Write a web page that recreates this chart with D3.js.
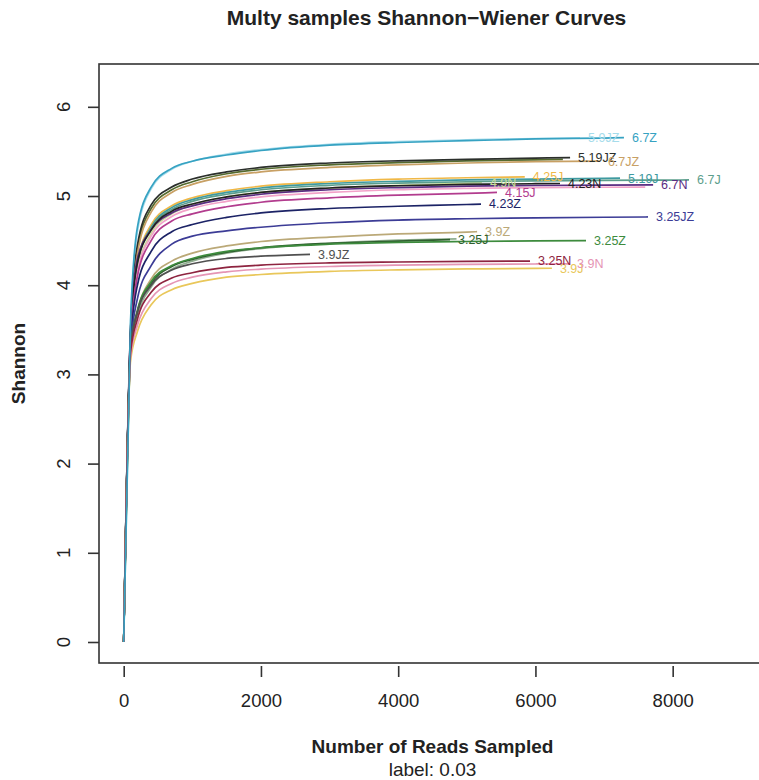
<!DOCTYPE html>
<html>
<head>
<meta charset="utf-8">
<script src="https://cdn.jsdelivr.net/npm/d3@7"></script>
<style>
  body { margin: 0; background: #fff; }
  text { font-family: "Liberation Sans", Arial, Helvetica, sans-serif; }
</style>
</head>
<body>
<div id="wrapper"></div>
<script>
// read depths shared by all curves (each curve stops at its own last depth)
const depths = [0, 100, 200, 400, 700, 1000, 1500, 2000, 3000, 4000, 5000, 6000, 7000, 8000];

const samples = ["5.9JZ", "5.19Z", "5.19JZ", "6.7JZ", "4.25J", "4.9N", "5.19J", "6.7J",
  "5.9J", "6.7N", "4.23N", "4.15J", "4.23Z", "3.25JZ", "3.9Z", "4.15N", "3.25J", "3.25Z",
  "3.9JZ", "3.9J", "3.9N", "3.25N", "6.7Z"];

// curves whose names are covered in the picture
const unlabelled = ["5.19Z", "5.9J", "4.15N"];

const sampleColors = ["#a6dceb", "#556b2f", "#2b2f2b", "#c8a064", "#f0b847", "#c8dc96",
  "#3e9aa0", "#5c9e8c", "#f2a2c8", "#5a2d82", "#222222", "#b23c8e", "#1c2366", "#3c3c96",
  "#bba978", "#90ae90", "#2f5f2f", "#3d8b3d", "#505050", "#e9c75a", "#e595b5", "#8e2440",
  "#36a2c2"];

// last number of reads sampled for each curve
const endReads = [6650, 6400, 6505, 6940, 5845, 5220, 7233, 8238,
  7600, 7715, 6358, 5440, 5207, 7640, 5150, 4850, 4755, 6737,
  2715, 6240, 6490, 5921, 7290];

// Shannon values at depths[...] below endReads, last value is at endReads
const shannonValues = [
  [0, 3.55, 4.6, 5.08, 5.3, 5.39, 5.47, 5.52, 5.58, 5.61, 5.63, 5.645, 5.65],
  [0, 3.45, 4.4, 4.86, 5.07, 5.16, 5.25, 5.3, 5.35, 5.375, 5.395, 5.405, 5.41],
  [0, 3.5, 4.45, 4.9, 5.1, 5.19, 5.27, 5.32, 5.37, 5.395, 5.41, 5.425, 5.43],
  [0, 3.4, 4.35, 4.82, 5.04, 5.13, 5.22, 5.27, 5.32, 5.35, 5.37, 5.385, 5.39],
  [0, 3.35, 4.25, 4.68, 4.89, 4.98, 5.06, 5.11, 5.16, 5.19, 5.205, 5.215],
  [0, 3.3, 4.15, 4.58, 4.8, 4.9, 4.99, 5.04, 5.09, 5.12, 5.145, 5.15],
  [0, 3.35, 4.25, 4.65, 4.87, 4.96, 5.04, 5.09, 5.14, 5.165, 5.18, 5.19, 5.198, 5.2],
  [0, 3.4, 4.25, 4.64, 4.85, 4.94, 5.02, 5.07, 5.12, 5.145, 5.16, 5.17, 5.176, 5.179, 5.18],
  [0, 3.4, 4.15, 4.55, 4.77, 4.86, 4.94, 4.99, 5.04, 5.07, 5.085, 5.093, 5.098, 5.1],
  [0, 3.5, 4.3, 4.62, 4.81, 4.89, 4.97, 5.02, 5.07, 5.095, 5.11, 5.118, 5.123, 5.125],
  [0, 3.45, 4.25, 4.62, 4.83, 4.91, 4.99, 5.04, 5.09, 5.115, 5.13, 5.138, 5.14],
  [0, 3.4, 4.1, 4.5, 4.72, 4.8, 4.88, 4.93, 4.98, 5.01, 5.03, 5.04],
  [0, 3.35, 4.0, 4.38, 4.6, 4.68, 4.76, 4.81, 4.86, 4.885, 4.905, 4.91],
  [0, 3.3, 3.85, 4.22, 4.46, 4.55, 4.61, 4.65, 4.7, 4.73, 4.745, 4.755, 4.762, 4.765],
  [0, 3.25, 3.7, 4.07, 4.27, 4.36, 4.44, 4.49, 4.54, 4.575, 4.595, 4.6],
  [0, 3.25, 3.65, 3.98, 4.18, 4.27, 4.36, 4.41, 4.47, 4.505, 4.52],
  [0, 3.3, 3.7, 4.02, 4.21, 4.29, 4.37, 4.42, 4.47, 4.495, 4.51],
  [0, 3.3, 3.72, 4.04, 4.22, 4.3, 4.38, 4.42, 4.46, 4.48, 4.49, 4.497, 4.5],
  [0, 3.3, 3.7, 4.0, 4.17, 4.24, 4.3, 4.325, 4.345],
  [0, 3.15, 3.48, 3.78, 3.95, 4.02, 4.09, 4.12, 4.155, 4.172, 4.182, 4.188, 4.19],
  [0, 3.2, 3.55, 3.85, 4.02, 4.09, 4.15, 4.18, 4.21, 4.225, 4.233, 4.238, 4.24],
  [0, 3.25, 3.62, 3.92, 4.08, 4.14, 4.2, 4.225, 4.25, 4.26, 4.267, 4.27],
  [0, 3.6, 4.65, 5.1, 5.31, 5.39, 5.46, 5.51, 5.57, 5.6, 5.62, 5.64, 5.65, 5.655]
];

const yTicks = [0, 1, 2, 3, 4, 5, 6];
const xTicks = [0, 2000, 4000, 6000, 8000];

// screen dimensions
const width = 759;
const height = 780;
const plot = { left: 99, right: 766, top: 64, bottom: 663 };

const svg = d3.select("#wrapper")
  .append("svg")
  .attr("width", width)
  .attr("height", height);

svg.append("rect")
  .attr("width", width)
  .attr("height", height)
  .attr("fill", "#fff");

// scales (R style 4% padding round xlim 0..9000)
const xScale = d3.scaleLinear()
  .domain([-360, 9360])
  .range([plot.left, plot.right]);

const yScale = d3.scaleLinear()
  .domain([-0.2355, 6.48])
  .range([plot.bottom, plot.top]);

// build point lists
const curves = samples.map((name, i) => {
  const vals = shannonValues[i];
  const pts = vals.slice(0, -1).map((v, j) => [depths[j], v]);
  pts.push([endReads[i], vals[vals.length - 1]]);
  return { name, color: sampleColors[i], pts };
});

const lineGenerator = d3.line()
  .x((d) => xScale(d[0]))
  .y((d) => yScale(d[1]))
  .curve(d3.curveMonotoneX);

svg.append("g")
  .selectAll("path")
  .data(curves)
  .join("path")
  .attr("d", (d) => lineGenerator(d.pts))
  .attr("fill", "none")
  .attr("stroke", (d) => d.color)
  .attr("stroke-width", 1.7);

// sample names at curve ends
svg.append("g")
  .selectAll("text")
  .data(curves.filter((d) => !unlabelled.includes(d.name)))
  .join("text")
  .attr("x", (d) => xScale(d.pts[d.pts.length - 1][0]) + 8)
  .attr("y", (d) => yScale(d.pts[d.pts.length - 1][1]))
  .attr("dy", "0.35em")
  .attr("font-size", 12.5)
  .attr("fill", (d) => d.color)
  .text((d) => d.name);

// box
svg.append("rect")
  .attr("x", plot.left)
  .attr("y", plot.top)
  .attr("width", plot.right - plot.left)
  .attr("height", plot.bottom - plot.top)
  .attr("fill", "none")
  .attr("stroke", "#333")
  .attr("stroke-width", 1.6);

// y axis
const yAxis = svg.append("g")
  .attr("transform", `translate(${plot.left},0)`)
  .call(d3.axisLeft(yScale).tickValues(yTicks).tickSize(11).tickFormat(""));
yAxis.select(".domain").remove();
yAxis.selectAll("line").attr("stroke", "#333").attr("stroke-width", 1.6);

svg.append("g")
  .selectAll("text")
  .data(yTicks)
  .join("text")
  .attr("transform", (d) => `translate(64,${yScale(d)}) rotate(-90)`)
  .attr("text-anchor", "middle")
  .attr("dy", "0.35em")
  .attr("font-size", 18.5)
  .attr("fill", "#222")
  .text((d) => d);

// x axis (ticks sit a little below the box)
const xAxis = svg.append("g")
  .attr("transform", `translate(0,${plot.bottom + 3})`)
  .call(d3.axisBottom(xScale).tickValues(xTicks).tickSize(11).tickPadding(17).tickFormat(d3.format("d")));
xAxis.select(".domain").remove();
xAxis.selectAll("line").attr("stroke", "#333").attr("stroke-width", 1.6);
xAxis.selectAll("text")
  .attr("font-size", 18.5)
  .attr("fill", "#222")
  .attr("font-family", "Liberation Sans, Arial, sans-serif");

// titles
const midX = (plot.left + plot.right) / 2;

svg.append("text")
  .attr("x", midX - 6)
  .attr("y", 18)
  .attr("dy", "0.35em")
  .attr("text-anchor", "middle")
  .attr("font-size", 21)
  .attr("font-weight", "bold")
  .attr("fill", "#222")
  .text("Multy samples Shannon\u2212Wiener Curves");

svg.append("text")
  .attr("x", midX)
  .attr("y", 746)
  .attr("dy", "0.35em")
  .attr("text-anchor", "middle")
  .attr("font-size", 19)
  .attr("font-weight", "bold")
  .attr("fill", "#222")
  .text("Number of Reads Sampled");

svg.append("text")
  .attr("x", midX)
  .attr("y", 769)
  .attr("dy", "0.35em")
  .attr("text-anchor", "middle")
  .attr("font-size", 19)
  .attr("fill", "#222")
  .text("label: 0.03");

svg.append("text")
  .attr("transform", `translate(18,${(plot.top + plot.bottom) / 2}) rotate(-90)`)
  .attr("dy", "0.35em")
  .attr("text-anchor", "middle")
  .attr("font-size", 19)
  .attr("font-weight", "bold")
  .attr("fill", "#222")
  .text("Shannon");
</script>
</body>
</html>
